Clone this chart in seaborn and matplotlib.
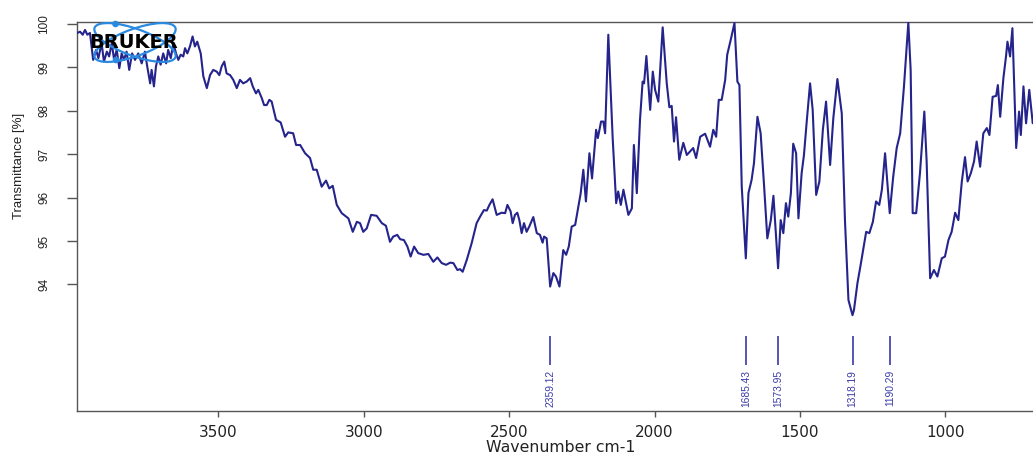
import matplotlib
matplotlib.use("Agg")
import matplotlib.pyplot as plt
from matplotlib.patches import Ellipse, Circle
from matplotlib.transforms import IdentityTransform
import seaborn as sns
import pandas as pd

# IR spectrum (wavenumber in cm-1, transmittance in %)
wavenumber = [
    3986, 3976, 3967, 3959, 3951, 3942, 3931, 3921, 3913, 3902, 3894, 3884,
    3876, 3867, 3859, 3850, 3841, 3833, 3825, 3816, 3807, 3797, 3787, 3776,
    3764, 3753, 3745, 3735, 3730, 3722, 3715, 3707, 3699, 3690, 3680, 3673,
    3664, 3655, 3646, 3638, 3630, 3621, 3615, 3607, 3598, 3589, 3581, 3573,
    3561, 3552, 3540, 3529, 3518, 3506, 3497, 3489, 3480, 3472, 3460, 3449,
    3437, 3426, 3415, 3403, 3391, 3382, 3371, 3363, 3351, 3343, 3334, 3325,
    3317, 3302, 3286, 3271, 3260, 3243, 3233, 3219, 3202, 3185, 3174, 3162,
    3145, 3130, 3119, 3107, 3093, 3076, 3053, 3038, 3024, 3013, 3002, 2990,
    2975, 2956, 2938, 2924, 2910, 2899, 2885, 2875, 2862, 2850, 2839, 2827,
    2813, 2795, 2778, 2761, 2747, 2732, 2717, 2703, 2692, 2678, 2669, 2660,
    2646, 2629, 2612, 2600,
    2587, 2577, 2568, 2557, 2543, 2526, 2514, 2506, 2495, 2488, 2480, 2472,
    2465, 2457, 2449, 2440, 2431, 2417, 2405, 2394, 2385, 2380, 2371, 2359,
    2348, 2339, 2327, 2314, 2304, 2295, 2285, 2273, 2262, 2254, 2245, 2236,
    2224, 2215, 2201, 2195, 2184, 2176, 2170, 2159, 2144, 2132, 2125, 2116,
    2107, 2100, 2090, 2078, 2071, 2061, 2050, 2041, 2036, 2028, 2015, 2006,
    1998, 1987, 1972, 1958, 1949, 1941, 1933, 1926, 1915, 1901, 1889, 1878,
    1867, 1857, 1843, 1826, 1809, 1798, 1788, 1779, 1769, 1757, 1750, 1738,
    1725, 1715, 1708, 1700, 1686, 1677, 1666, 1658, 1646, 1635, 1623, 1612,
    1600, 1591, 1575, 1566, 1557, 1548, 1540, 1531, 1523, 1513, 1505, 1494,
    1486, 1476, 1465, 1456, 1444, 1433, 1421, 1410, 1396, 1385, 1371, 1356,
    1345, 1333, 1319, 1314, 1302, 1291, 1272, 1261, 1249, 1238, 1227, 1218,
    1207, 1191, 1179, 1167, 1155, 1142, 1127, 1119, 1112, 1100, 1087, 1072,
    1064, 1052, 1039, 1027, 1012, 1001, 989, 978, 966, 955, 943, 932,
    923, 912, 901, 892, 880, 869, 857, 848, 837, 825, 819, 811,
    800, 791, 786, 777, 769, 756, 746, 740, 731, 722, 711, 699, 690,
]
transmittance = [
    99.79, 99.82, 99.75, 99.86, 99.75, 99.79, 99.17, 99.40, 99.21, 99.56, 99.13, 99.36,
    99.25, 99.56, 99.17, 99.40, 98.98, 99.32, 99.17, 99.36, 98.94, 99.32, 99.17, 99.32,
    99.09, 99.36, 99.02, 98.63, 98.94, 98.56, 99.02, 99.25, 99.06, 99.32, 99.09, 99.40,
    99.21, 99.56, 99.32, 99.17, 99.29, 99.25, 99.44, 99.32, 99.48, 99.71, 99.48, 99.59,
    99.32, 98.79, 98.52, 98.82, 98.94, 98.90, 98.82, 99.02, 99.13, 98.86, 98.82, 98.71,
    98.52, 98.71, 98.63, 98.67, 98.75, 98.56, 98.40, 98.48, 98.29, 98.13, 98.13, 98.25,
    98.21, 97.79, 97.73, 97.40, 97.50, 97.48, 97.21, 97.21, 97.02, 96.91, 96.64, 96.64,
    96.25, 96.39, 96.21, 96.27, 95.83, 95.64, 95.52, 95.21, 95.44, 95.41, 95.21, 95.29,
    95.60, 95.58, 95.41, 95.35, 94.98, 95.10, 95.14, 95.04, 95.02, 94.87, 94.64, 94.87,
    94.72, 94.68, 94.70, 94.52, 94.62, 94.49, 94.45, 94.50, 94.49, 94.33, 94.35, 94.29,
    94.56, 94.95, 95.41, 95.56,
    95.71, 95.70, 95.83, 95.96, 95.60, 95.65, 95.64, 95.83, 95.68, 95.41, 95.60, 95.65,
    95.48, 95.18, 95.41, 95.21, 95.33, 95.55, 95.18, 95.14, 94.96, 95.10, 95.06, 93.95,
    94.26, 94.18, 93.95, 94.79, 94.68, 94.87, 95.33, 95.37, 95.79, 96.10, 96.64, 95.91,
    97.02, 96.44, 97.56, 97.37, 97.75, 97.75, 97.48, 99.75, 97.37, 95.87, 96.14, 95.83,
    96.18, 95.94, 95.60, 95.75, 97.21, 96.10, 97.79, 98.67, 98.63, 99.26, 98.02, 98.90,
    98.48, 98.21, 99.92, 98.63, 98.08, 98.11, 97.29, 97.85, 96.87, 97.26, 96.98, 97.06,
    97.14, 96.91, 97.40, 97.47, 97.17, 97.56, 97.40, 98.25, 98.25, 98.71, 99.29, 99.63,
    100.02, 98.67, 98.59, 96.25, 94.60, 96.10, 96.41, 96.79, 97.86, 97.48, 96.25, 95.06,
    95.48, 96.04, 94.37, 95.48, 95.18, 95.87, 95.56, 96.10, 97.24, 97.02, 95.52, 96.56,
    96.98, 97.79, 98.63, 98.02, 96.06, 96.37, 97.56, 98.21, 96.75, 97.83, 98.73, 97.94,
    95.48, 93.64, 93.29, 93.41, 94.03, 94.45, 95.21, 95.18, 95.44, 95.91, 95.83, 96.18,
    97.02, 95.64, 96.48, 97.14, 97.48, 98.56, 100.03, 98.94, 95.64, 95.64, 96.56, 97.98,
    96.83, 94.14, 94.33, 94.18, 94.60, 94.64, 95.02, 95.21, 95.65, 95.48, 96.37, 96.93,
    96.37, 96.56, 96.83, 97.29, 96.71, 97.48, 97.60, 97.44, 98.32, 98.34, 98.59, 97.86,
    98.75, 99.25, 99.59, 99.25, 99.90, 97.14, 97.98, 97.44, 98.56, 97.71, 98.48, 97.71, 97.95,
]

# picked peaks
peak_positions = [2359.12, 1685.43, 1573.95, 1318.19, 1190.29]
peak_labels = ["2359.12", "1685.43", "1573.95", "1318.19", "1190.29"]

x_ticks = [3500, 3000, 2500, 2000, 1500, 1000]
y_ticks = [94, 95, 96, 97, 98, 99, 100]

sns.set_style("ticks")
plt.rcParams["font.family"] = ["DejaVu Sans"]

W, H = 1033, 455
fig = plt.figure(figsize=(W / 100, H / 100), dpi=100)
ax = fig.add_axes([77 / W, 1 - 410.7 / H, 970 / W, (410.7 - 21.7) / H])

spectrum = pd.DataFrame({"wavenumber": wavenumber, "transmittance": transmittance})
sns.lineplot(data=spectrum, x="wavenumber", y="transmittance", sort=False,
             estimator=None, color="#24248c", linewidth=1.5, ax=ax, zorder=3)

ax.set_xlim(3986.6, 650)
ax.set_ylim(91.09, 100.05)
ax.set_xticks(x_ticks)
ax.set_yticks(y_ticks)

for side in ("left", "bottom", "top"):
    ax.spines[side].set_color("#555555")
    ax.spines[side].set_linewidth(1.0)
ax.spines["right"].set_visible(False)

ax.tick_params(axis="x", length=4.3, width=1.0, pad=6, labelsize=11,
               color="#555555", labelcolor="#222222")
ax.tick_params(axis="y", length=7.2, width=1.0, pad=12, labelsize=8.5,
               color="#555555", labelcolor="#222222", labelrotation=90)
for lbl in ax.get_yticklabels():
    lbl.set_va("center")
    lbl.set_family("Liberation Sans")

ax.set_xlabel("Wavenumber cm-1", fontsize=11.3, color="#222222")
ax.xaxis.set_label_coords(0.499, -0.075)
ax.set_ylabel("Transmittance [%]", fontsize=9.5, color="#222222",
              family="Liberation Sans")
ax.yaxis.set_label_coords(-0.0536, 0.63)

# peak markers with their wavenumbers
ax.vlines(peak_positions, 92.14, 92.80, color="#3a3aa8", linewidth=1.2)
for pos, lab in zip(peak_positions, peak_labels):
    ax.text(pos, 92.03, lab, rotation=90, va="top", ha="center",
            fontsize=7.4, color="#3a3aa8", family="Liberation Sans")

# Bruker logo in the upper left corner (pixel coordinates)
logo_blue = "#2a8ae0"
cx, cy = 135, H - 42.5
for ang in (-20, 20):
    fig.patches.append(Ellipse((cx, cy), 86, 27, angle=ang, fill=False,
                               edgecolor=logo_blue, linewidth=1.6,
                               transform=IdentityTransform(), zorder=4))
for px, py in ((115.5, H - 24), (116, H - 60)):
    fig.patches.append(Circle((px, py), 2.6, color=logo_blue,
                              transform=IdentityTransform(), zorder=4))
fig.text(133.5, H - 42.7, "BRUKER", transform=IdentityTransform(),
         ha="center", va="center", fontsize=14, fontweight="heavy",
         color="black", zorder=5)

fig.savefig("out.png", dpi=100, facecolor="white")
